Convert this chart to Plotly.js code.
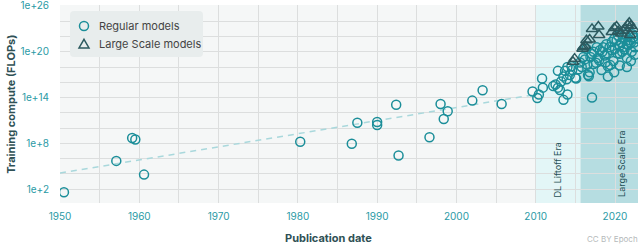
<!DOCTYPE html>
<html><head><meta charset="utf-8">
<script src="https://cdn.plot.ly/plotly-3.0.1.min.js"></script>
<style>html,body{margin:0;padding:0;background:#fff}#c{width:640px;height:244px}</style>
</head><body><div id="c"></div>
<script>
// Regular models: publication year and log10(training FLOPs)
const regularYear = [1950.5,1957.1,1959.1,1959.5,1960.6,1980.3,1986.8,1987.5,1990.0,1990.0,1992.4,1992.7,1996.6,1998.0,1998.4,1998.9,2002.0,2003.3,2005.7,
 2009.6,2010.2,2010.4,2010.9,2010.8,2012.2,2012.5,2012.8,2013.05,2013.5,2014.0,2012.8,2013.5,2013.7,2013.9,2014.0,2014.3,2014.6,2015.0,2015.4,2013.2,2014.5,
 2015.1,2015.8,2016.0,2016.6,2016.7,2017.1,2017.05,2017.6,2018.1,2018.7,2019.4,2019.8,2019.1,2019.9,2020.6,2021.0,2021.9,2022.3,2020.2,2018.9,2017.7,2016.4,
 2021.5,2022.5,2019.6,2018.5,2020.6,2021.0,2021.5,2020.4,2016.8,2018.3,2019.1,2020.6,2022.0,2021.5,2021.5,2016.2,2016.9,2017.3,2017.8,2018.0,2018.4,2019.0,
 2019.3,2019.6,2020.0,2020.3,2020.9,2021.2,2021.7,2022.0,2022.4,2022.6,2022.2,2021.3,2020.8,2019.9,2017.3,2016.5,2015.6,2018.8,2022.1,2022.5];
const regularLog10FLOPs = [1.6,5.7,8.7,8.5,3.9,8.2,7.95,10.7,10.8,10.4,13.05,6.4,8.8,13.15,11.2,12.2,13.6,14.95,13.15,
 14.8,13.95,14.4,15.3,16.5,15.5,15.7,15.3,15.0,13.7,14.4,17.5,16.75,17.5,16.4,18.0,16.96,17.6,16.6,17.7,16.1,18.1,
 16.5,18.0,19.3,16.96,16.8,14.0,19.75,18.56,20.2,19.5,18.25,18.8,16.75,17.3,19.75,20.6,21.5,21.9,21.5,21.0,20.6,20.4,
 21.0,20.6,20.2,20.6,20.8,21.9,21.9,22.1,17.3,17.6,18.1,18.2,18.8,18.0,19.2,19.0,19.3,20.0,19.2,18.9,20.0,19.8,
 20.6,21.3,20.4,19.8,20.0,20.3,20.9,21.2,21.2,21.8,22.3,22.3,21.2,21.7,18.4,18.3,18.6,18.6,20.0,19.6];
// Large scale models
const largeYear = [2014.7,2014.9,2015.9,2016.0,2016.2,2016.4,2016.8,2017.1,2017.9,2018.0,2019.6,2019.9,2020.2,2020.4,2020.8,2021.0,2021.3,2021.6,2021.8,2022.0,2022.3,2021.9];
const largeLog10FLOPs = [18.7,19.1,20.4,20.6,20.8,21.5,21.6,23.0,23.3,22.2,22.6,23.1,23.3,22.7,22.4,22.75,23.1,23.5,23.8,23.4,23.0,22.2];
// Pre-deep-learning trend (endpoints)
const trendYear = [1950, 2010.5];
const trendLog10FLOPs = [4.1, 14.5];
// Eras
const eraNames = ["DL Liftoff Era", "Large Scale Era"];
const eraStart = [2010, 2015.65];
const eraEnd = [2015.65, 2023];
const eraLabelYear = [2012.8, 2020.8];
const legendNames = ["Regular models", "Large Scale models"];
const yTickExp = [0,2,4,6,8,10,12,14,16,18,20,22,24,26];
const yLabelled = [2,8,14,20,26];
const xTickYears = [1950,1955,1960,1965,1970,1975,1980,1985,1990,1995,2000,2005,2010,2015,2020,2025];

const pow = a => a.map(v => Math.pow(10, v));
const teal = '#1b8e99';
const dark = '#2c5a5f';
const font = 'Inter, "Open Sans", sans-serif';

const M = {l: 60, r: 2, t: 5, b: 41}, W = 640, H = 244;
const pw = W - M.l - M.r, ph = H - M.t - M.b;
const px = v => (v - M.l) / pw;            // pixel x -> paper
const py = v => (H - M.b - v) / ph;        // pixel y -> paper

const traces = [
  {x: trendYear, y: pow(trendLog10FLOPs), mode: 'lines', line: {color: '#a9d8dc', width: 1.5, dash: '6px,5px'}, showlegend: false, hoverinfo: 'skip'},
  {x: regularYear, y: pow(regularLog10FLOPs), mode: 'markers', name: legendNames[0], showlegend: false,
   marker: {symbol: 'circle-open', size: 9, color: teal, line: {width: 1.5, color: teal}}},
  {x: largeYear, y: pow(largeLog10FLOPs), mode: 'markers', name: legendNames[1], showlegend: false,
   marker: {symbol: 'triangle-up-open', size: 10, color: dark, line: {width: 1.5, color: dark}}}
];

// rounded legend box path in paper coords
function roundRect(x0, y0, x1, y1, r) {
  const P = (a, b) => px(a) + ',' + py(b);
  return 'M' + P(x0 + r, y0) + ' L' + P(x1 - r, y0) + ' Q' + P(x1, y0) + ' ' + P(x1, y0 + r) +
    ' L' + P(x1, y1 - r) + ' Q' + P(x1, y1) + ' ' + P(x1 - r, y1) + ' L' + P(x0 + r, y1) +
    ' Q' + P(x0, y1) + ' ' + P(x0, y1 - r) + ' L' + P(x0, y0 + r) + ' Q' + P(x0, y0) + ' ' + P(x0 + r, y0) + ' Z';
}

const shapes = [
  {type: 'rect', xref: 'x', yref: 'paper', x0: eraStart[0], x1: eraEnd[0], y0: 0, y1: 1, fillcolor: '#e3f6f7', line: {width: 0}, layer: 'below'},
  {type: 'rect', xref: 'x', yref: 'paper', x0: eraStart[1], x1: eraEnd[1], y0: 0, y1: 1, fillcolor: '#b6dde1', line: {width: 0}, layer: 'below'},
  {type: 'path', xref: 'paper', yref: 'paper', path: roundRect(70, 11, 203, 57, 4), fillcolor: '#e8eded', line: {width: 0}, layer: 'above'},
  {type: 'circle', xref: 'paper', yref: 'paper', x0: px(79.5), x1: px(88.5), y0: py(30.5), y1: py(21.5), line: {color: teal, width: 1.5}, layer: 'above'},
  {type: 'path', xref: 'paper', yref: 'paper', path: 'M' + px(84) + ',' + py(39.3) + ' L' + px(89) + ',' + py(48) + ' L' + px(79) + ',' + py(48) + ' Z',
   line: {color: dark, width: 1.5}, layer: 'above'}
];

const annotations = eraNames.map((n, i) => ({
  text: n, x: eraLabelYear[i], xref: 'x', y: 0.02, yref: 'paper', textangle: -90, showarrow: false,
  xanchor: 'center', yanchor: 'bottom', font: {family: font, size: 9, color: '#1f4f55'}
}));
legendNames.forEach((n, i) => annotations.push({text: n, xref: 'paper', yref: 'paper', x: px(96.5), y: py(26 + 18 * i),
  showarrow: false, xanchor: 'left', yanchor: 'middle', font: {family: font, size: 11, color: '#444'}}));
annotations.push({text: '<b>Training compute (FLOPs)</b>', xref: 'paper', yref: 'paper', x: -0.085, y: 0.5, textangle: -90,
  showarrow: false, xanchor: 'center', yanchor: 'middle', font: {family: font, size: 11, color: '#2f5155'}});
annotations.push({text: '<b>Publication date</b>', xref: 'paper', yref: 'paper', x: 0.465, y: -0.177, showarrow: false,
  xanchor: 'center', yanchor: 'middle', font: {family: font, size: 11, color: '#2f5155'}});
annotations.push({text: 'CC BY Epoch', xref: 'paper', yref: 'paper', x: 1.003, y: -0.182, showarrow: false,
  xanchor: 'right', yanchor: 'middle', font: {family: font, size: 8, color: '#b5b9ba'}});

const layout = {
  width: W, height: H,
  margin: M,
  paper_bgcolor: '#ffffff', plot_bgcolor: '#f5f7f7',
  font: {family: font, color: '#444'},
  showlegend: false,
  xaxis: {range: [1950, 2022.9], tickmode: 'array', tickvals: xTickYears,
    ticktext: xTickYears.map(y => y % 10 === 0 ? String(y) : ''),
    showgrid: true, gridcolor: '#dcdede', gridwidth: 1, zeroline: false, showline: false, ticks: '',
    tickfont: {family: font, size: 10, color: '#2a9aa5'}, ticklabelstandoff: 6},
  yaxis: {type: 'log', range: [0.18, 26.13], tickmode: 'array', tickvals: pow(yTickExp),
    ticktext: yTickExp.map(e => yLabelled.includes(e) ? '1e+' + e : ''),
    showgrid: true, gridcolor: '#dcdede', gridwidth: 1, zeroline: false, showline: false, ticks: '',
    tickfont: {family: font, size: 10, color: '#2a9aa5'}, ticklabelstandoff: 10, ticklabeloverflow: 'allow'},
  shapes: shapes,
  annotations: annotations
};
Plotly.newPlot('c', traces, layout, {displayModeBar: false, staticPlot: true});
</script></body></html>
